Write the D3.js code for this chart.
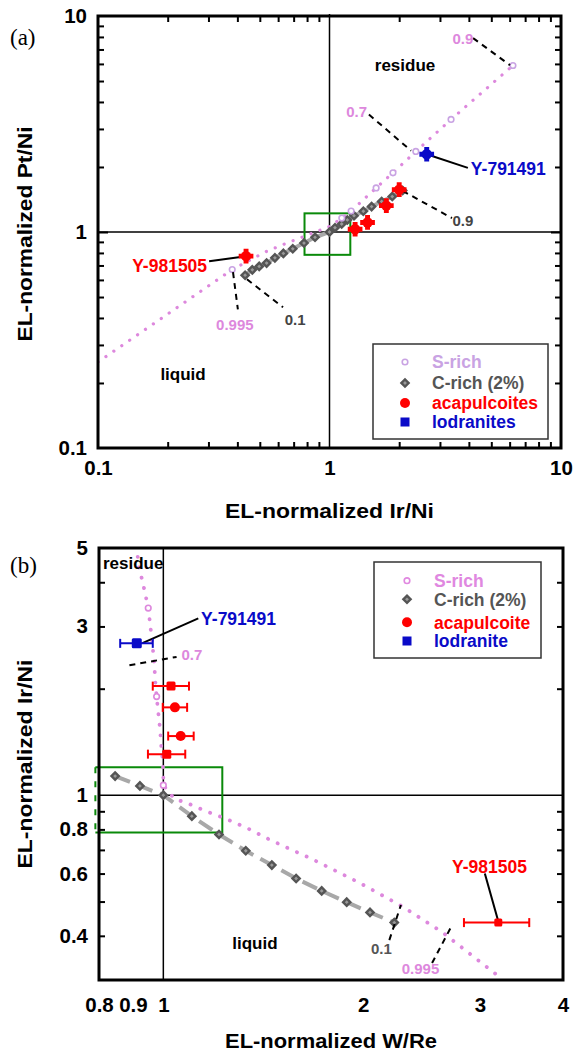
<!DOCTYPE html>
<html>
<head>
<meta charset="utf-8">
<script src="https://cdn.jsdelivr.net/npm/d3@7"></script>
<style>
  body { margin: 0; background: #fff; }
  text { font-family: "Liberation Sans", Arial, sans-serif; font-weight: bold; }
</style>
</head>
<body>
<div id="chart"></div>
<script>
// ---------------- panel (a) : Pt/Ni vs Ir/Ni ----------------
var aTickVals = [0.1, 1, 10];
var aTickLabels = ["0.1", "1", "10"];
var aMinor = [0.2, 0.3, 0.4, 0.5, 0.6, 0.7, 0.8, 0.9, 2, 3, 4, 5, 6, 7, 8, 9];

// S-rich melting curve (dotted) and its marked steps
var aSrichLine = [[0.1, 0.25], [0.38, 0.67], [0.53, 0.81], [0.64, 0.88], [1.0, 1.06], [1.13, 1.16],
  [1.24, 1.25], [1.59, 1.6], [1.88, 1.88], [2.36, 2.36], [3.35, 3.32], [6.2, 5.9]];
var aSrichOpen = [[0.38, 0.67], [1.13, 1.16], [1.24, 1.25], [1.59, 1.6], [1.88, 1.88],
  [2.36, 2.36], [3.35, 3.32], [6.2, 5.9]];
// C-rich (2%) curve
var aCrich = [[0.432, 0.631], [0.464, 0.668], [0.497, 0.693], [0.535, 0.718], [0.581, 0.759],
  [0.632, 0.796], [0.694, 0.836], [0.776, 0.889], [0.866, 0.945], [1, 1], [1.056, 1.047],
  [1.129, 1.089], [1.194, 1.137], [1.276, 1.19], [1.40, 1.248], [1.52, 1.311], [1.68, 1.384],
  [1.867, 1.459], [2.07, 1.556]];
var aAcapulcoites = [[1.29, 1.03], [1.46, 1.107], [1.76, 1.325], [2.0, 1.57]];
var aY981505 = [0.436, 0.773];
var aY791491 = [2.63, 2.29];
var aBox = [[0.78, 0.784], [1.23, 1.22]];
// dashed leaders: [from, to]
var aLeaders = [
  [[0.383, 0.652], [0.402, 0.438]],
  [[0.44, 0.604], [0.63, 0.448]],
  [[2.07, 1.55], [3.38, 1.16]],
  [[1.48, 3.5], [2.25, 2.38]],
  [[4.17, 7.9], [6.02, 5.92]]
];
var aNotes = [
  { t: "0.995", x: 0.39, y: 0.373, c: "#dd88dd", a: "middle", s: 15 },
  { t: "0.1", x: 0.71, y: 0.394, c: "#444", a: "middle", s: 15 },
  { t: "0.9", x: 3.77, y: 1.125, c: "#444", a: "middle", s: 15 },
  { t: "0.7", x: 1.31, y: 3.61, c: "#dd88dd", a: "middle", s: 15 },
  { t: "0.9", x: 3.77, y: 7.82, c: "#dd88dd", a: "middle", s: 15 },
  { t: "residue", x: 2.12, y: 5.92, c: "#000", a: "middle", s: 17 },
  { t: "liquid", x: 0.233, y: 0.221, c: "#000", a: "middle", s: 17 },
  { t: "Y-981505", x: 0.296, y: 0.697, c: "#ff0000", a: "end", s: 17.5 },
  { t: "Y-791491", x: 4.08, y: 1.96, c: "#0a0ac8", a: "start", s: 17.5 }
];
var aLabelLines = [
  [[0.302, 0.733], aY981505],
  [aY791491, [3.96, 1.98]]
];

// ---------------- panel (b) : Ir/Ni vs W/Re ----------------
var bXTickVals = [0.8, 0.9, 1, 2, 3, 4];
var bXTickLabels = ["0.8", "0.9", "1", "2", "3", "4"];
var bYTickVals = [0.4, 0.6, 0.8, 1, 3, 5];
var bYTickLabels = ["0.4", "0.6", "0.8", "1", "3", "5"];
var bYMinor = [0.4, 0.5, 0.6, 0.7, 0.8, 0.9, 2, 3, 4];

var bSrichLine = [[0.915, 4.72], [0.917, 4.48], [0.928, 4.10], [0.939, 3.72], [0.949, 3.38],
  [0.955, 3.06], [0.961, 2.75], [0.969, 2.38], [0.972, 2.12], [0.977, 1.90], [0.983, 1.70],
  [0.989, 1.53], [0.992, 1.40], [0.997, 1.27], [1.0, 1.15], [1.0, 1.067], [1.04, 0.974],
  [1.078, 0.955], [1.156, 0.903], [1.247, 0.855], [1.337, 0.807], [1.432, 0.755], [1.541, 0.708],
  [1.652, 0.668], [1.978, 0.564], [2.288, 0.485], [2.63, 0.41], [3.14, 0.316], [3.25, 0.30]];
var bSrichOpen = [[0.949, 3.38], [0.977, 1.90], [1.0, 1.067]];
var bCrich = [[0.846, 1.132], [0.922, 1.062], [1, 1], [1.104, 0.872], [1.213, 0.774],
  [1.331, 0.696], [1.457, 0.634], [1.585, 0.581], [1.732, 0.536], [1.889, 0.498],
  [2.048, 0.466], [2.228, 0.436]];
var bAcapX = [1.027, 1.041, 1.062, 1.012];
var bAcapXlo = [0.964, 0.998, 1.017, 0.948];
var bAcapXhi = [1.093, 1.086, 1.111, 1.079];
var bAcapY = [2.034, 1.771, 1.469, 1.306];
var bAcapShape = ["square", "circle", "circle", "square"];
var bY791491 = { x: 0.912, lo: 0.861, hi: 0.964, y: 2.687 };
var bY981505 = { x: 3.196, lo: 2.837, hi: 3.558, y: 0.436 };
var bBox = [[0.79, 0.784], [1.227, 1.2]];
var bLeaders = [
  [[0.889, 2.33], [1.047, 2.46]],
  [[2.19, 0.389], [2.28, 0.489]],
  [[2.54, 0.335], [2.71, 0.422]]
];
var bNotes = [
  { t: "0.7", x: 1.104, y: 2.50, c: "#dd88dd", a: "middle", s: 15 },
  { t: "0.1", x: 2.13, y: 0.367, c: "#555", a: "middle", s: 15 },
  { t: "0.995", x: 2.44, y: 0.324, c: "#dd88dd", a: "middle", s: 15 },
  { t: "residue", x: 0.811, y: 4.53, c: "#000", a: "start", s: 17 },
  { t: "liquid", x: 1.374, y: 0.381, c: "#000", a: "middle", s: 17 },
  { t: "Y-791491", x: 1.14, y: 3.15, c: "#0a0ac8", a: "start", s: 17.5 },
  { t: "Y-981505", x: 3.10, y: 0.627, c: "#ff0000", a: "middle", s: 17.5 }
];
var bLabelLines = [
  [[0.93, 2.69], [1.129, 3.16]],
  [[3.05, 0.60], [3.19, 0.445]]
];

var legendA = [
  { t: "S-rich", c: "#c9a3e3", m: "open" },
  { t: "C-rich (2%)", c: "#555", m: "diamond" },
  { t: "acapulcoites", c: "#ff0000", m: "dot" },
  { t: "lodranites", c: "#0a0ac8", m: "square" }
];
var legendB = [
  { t: "S-rich", c: "#e088e0", m: "open" },
  { t: "C-rich (2%)", c: "#555", m: "diamond" },
  { t: "acapulcoite", c: "#ff0000", m: "dot" },
  { t: "lodranite", c: "#0a0ac8", m: "square" }
];

var svg = d3.select("#chart").append("svg")
  .attr("width", 580).attr("height", 1057)
  .style("background", "#fff");

function clean(sel) {
  sel.select(".domain").remove();
  sel.selectAll(".tick line").attr("stroke", "#000").attr("stroke-width", 2);
}

// inward ticks on all four sides (x ticks optional)
function frameTicks(g, x, y, xMinor, yMinor, yMajor) {
  var x0 = x.range()[0], x1 = x.range()[1], y0 = y.range()[0], y1 = y.range()[1];
  if (xMinor.length) {
    g.append("g").attr("transform", "translate(0," + y0 + ")")
      .call(d3.axisBottom(x).tickValues(xMinor).tickSize(-6).tickFormat("")).call(clean);
    g.append("g").attr("transform", "translate(0," + y1 + ")")
      .call(d3.axisTop(x).tickValues(xMinor).tickSize(-6).tickFormat("")).call(clean);
  }
  g.append("g").attr("transform", "translate(" + x0 + ",0)")
    .call(d3.axisLeft(y).tickValues(yMinor).tickSize(-6).tickFormat("")).call(clean);
  g.append("g").attr("transform", "translate(" + x1 + ",0)")
    .call(d3.axisRight(y).tickValues(yMinor).tickSize(-6).tickFormat("")).call(clean);
  if (yMajor.length) {
    g.append("g").attr("transform", "translate(" + x0 + ",0)")
      .call(d3.axisLeft(y).tickValues(yMajor).tickSize(-10).tickFormat("")).call(clean);
    g.append("g").attr("transform", "translate(" + x1 + ",0)")
      .call(d3.axisRight(y).tickValues(yMajor).tickSize(-10).tickFormat("")).call(clean);
  }
}

function tickLabels(g, x, y, xv, xl, yv, yl, xPad) {
  var x0 = x.range()[0], y0 = y.range()[0];
  var gx = g.append("g").attr("transform", "translate(0," + y0 + ")")
    .call(d3.axisBottom(x).tickValues(xv).tickSize(0).tickPadding(xPad)
      .tickFormat(function(d, i) { return xl[i]; }));
  var gy = g.append("g").attr("transform", "translate(" + x0 + ",0)")
    .call(d3.axisLeft(y).tickValues(yv).tickSize(0).tickPadding(11)
      .tickFormat(function(d, i) { return yl[i]; }));
  [gx, gy].forEach(function(s) {
    s.select(".domain").remove();
    s.attr("font-family", null).attr("font-size", null);
    s.selectAll("text").attr("font-size", 20.5).attr("fill", "#000");
  });
}

function notes(g, x, y, list) {
  g.selectAll(null).data(list).enter().append("text")
    .attr("x", function(d) { return x(d.x); })
    .attr("y", function(d) { return y(d.y); })
    .attr("dy", "0.36em")
    .attr("text-anchor", function(d) { return d.a; })
    .attr("font-size", function(d) { return d.s; })
    .attr("fill", function(d) { return d.c; })
    .text(function(d) { return d.t; });
}

function segs(g, x, y, list, dash, width) {
  g.selectAll(null).data(list).enter().append("line")
    .attr("x1", function(d) { return x(d[0][0]); })
    .attr("y1", function(d) { return y(d[0][1]); })
    .attr("x2", function(d) { return x(d[1][0]); })
    .attr("y2", function(d) { return y(d[1][1]); })
    .attr("stroke", "#000").attr("stroke-width", width)
    .attr("stroke-dasharray", dash);
}

var diamond = d3.symbol().type(d3.symbolSquare).size(26);
var cross = d3.symbol().type(d3.symbolCross).size(120);

function legend(g, list, bx, by, bw, bh, mx, tx, rows) {
  g.append("rect").attr("x", bx).attr("y", by).attr("width", bw).attr("height", bh)
    .attr("fill", "#fff").attr("stroke", "#333").attr("stroke-width", 1.5);
  list.forEach(function(d, i) {
    var cy = rows[i];
    if (d.m === "open") {
      g.append("circle").attr("cx", mx).attr("cy", cy).attr("r", 2.8)
        .attr("fill", "#fff").attr("stroke", d.c).attr("stroke-width", 1.6);
    } else if (d.m === "diamond") {
      g.append("path").attr("d", diamond)
        .attr("transform", "translate(" + mx + "," + cy + ") rotate(45)")
        .attr("fill", "#999").attr("stroke", "#555").attr("stroke-width", 2.4);
    } else if (d.m === "dot") {
      g.append("circle").attr("cx", mx).attr("cy", cy).attr("r", 5).attr("fill", d.c);
    } else {
      g.append("rect").attr("x", mx - 4.5).attr("y", cy - 4.5).attr("width", 9).attr("height", 9)
        .attr("fill", d.c);
    }
    g.append("text").attr("x", tx).attr("y", cy).attr("dy", "0.36em")
      .attr("font-size", 17.5).attr("fill", d.c).text(d.t);
  });
}

// ================= panel (a) =================
var xa = d3.scaleLog().domain([0.1, 10]).range([98, 561]);
var ya = d3.scaleLog().domain([0.1, 10]).range([448, 16]);
var ga = svg.append("g");

ga.append("clipPath").attr("id", "clipA").append("rect")
  .attr("x", 98).attr("y", 16).attr("width", 463).attr("height", 432);

// reference lines at 1
ga.append("line").attr("x1", xa(1)).attr("x2", xa(1)).attr("y1", 14).attr("y2", ya(0.1))
  .attr("stroke", "#000").attr("stroke-width", 1.5);
ga.append("line").attr("x1", xa(0.1)).attr("x2", xa(10)).attr("y1", ya(1)).attr("y2", ya(1))
  .attr("stroke", "#000").attr("stroke-width", 1.5);

ga.append("rect")
  .attr("x", xa(aBox[0][0])).attr("y", ya(aBox[1][1]))
  .attr("width", xa(aBox[1][0]) - xa(aBox[0][0]))
  .attr("height", ya(aBox[0][1]) - ya(aBox[1][1]))
  .attr("fill", "none").attr("stroke", "#0a8a0a").attr("stroke-width", 2);

var lineA = d3.line().x(function(d) { return xa(d[0]); }).y(function(d) { return ya(d[1]); });
var plotA = ga.append("g").attr("clip-path", "url(#clipA)");

plotA.append("path").datum(aSrichLine).attr("d", lineA)
  .attr("fill", "none").attr("stroke", "#dd88dd").attr("stroke-width", 3.2)
  .attr("stroke-linecap", "round").attr("stroke-dasharray", "0.1,9.5");
plotA.append("path").datum(aCrich).attr("d", lineA)
  .attr("fill", "none").attr("stroke", "#a8a8a8").attr("stroke-width", 4);

segs(ga, xa, ya, aLeaders, "6,5", 2);
segs(ga, xa, ya, aLabelLines, null, 2);

plotA.selectAll(null).data(aCrich).enter().append("path").attr("d", diamond)
  .attr("transform", function(d) { return "translate(" + xa(d[0]) + "," + ya(d[1]) + ") rotate(45)"; })
  .attr("fill", "#999").attr("stroke", "#555").attr("stroke-width", 2.4);
plotA.selectAll(null).data(aSrichOpen).enter().append("circle")
  .attr("cx", function(d) { return xa(d[0]); }).attr("cy", function(d) { return ya(d[1]); })
  .attr("r", 2.8).attr("fill", "#fff").attr("stroke", "#c9a3e3").attr("stroke-width", 1.6);

function crossMark(g, x, y, p, c) {
  g.append("path").attr("d", cross)
    .attr("transform", "translate(" + x(p[0]) + "," + y(p[1]) + ")").attr("fill", c);
  g.append("circle").attr("cx", x(p[0])).attr("cy", y(p[1])).attr("r", 5.2).attr("fill", c);
}
aAcapulcoites.forEach(function(p) { crossMark(ga, xa, ya, p, "#ff0000"); });
crossMark(ga, xa, ya, aY981505, "#ff0000");
crossMark(ga, xa, ya, aY791491, "#0a0ac8");

notes(ga, xa, ya, aNotes);

ga.append("rect").attr("x", 98).attr("y", 16).attr("width", 463).attr("height", 432)
  .attr("fill", "none").attr("stroke", "#000").attr("stroke-width", 3);
frameTicks(ga, xa, ya, aMinor, aMinor, [1]);
tickLabels(ga, xa, ya, aTickVals, aTickLabels, aTickVals, aTickLabels, 12);

legend(ga, legendA, 373, 344, 175, 95, 405, 432, [362, 383, 403, 422]);

ga.append("text").attr("x", 329.5).attr("y", 511).attr("dy", "0.36em")
  .attr("text-anchor", "middle").attr("font-size", 20)
  .attr("textLength", 209).attr("lengthAdjust", "spacingAndGlyphs")
  .text("EL-normalized Ir/Ni");
ga.append("text").attr("transform", "translate(25,234) rotate(-90)").attr("dy", "0.36em")
  .attr("text-anchor", "middle").attr("font-size", 20)
  .attr("textLength", 215).attr("lengthAdjust", "spacingAndGlyphs")
  .text("EL-normalized Pt/Ni");
ga.append("text").attr("x", 10).attr("y", 45)
  .style("font-family", "'Liberation Serif', 'Times New Roman', serif").style("font-weight", "normal")
  .attr("font-size", 23).text("(a)");

// ================= panel (b) =================
var xb = d3.scaleLog().domain([0.8, 4]).range([99, 563]);
var yb = d3.scaleLog().domain([0.3, 5]).range([980, 548]);
var gb = svg.append("g");

gb.append("clipPath").attr("id", "clipB").append("rect")
  .attr("x", 99).attr("y", 548).attr("width", 464).attr("height", 432);

gb.append("line").attr("x1", xb(1)).attr("x2", xb(1)).attr("y1", yb(5)).attr("y2", yb(0.3))
  .attr("stroke", "#000").attr("stroke-width", 1.5);
gb.append("line").attr("x1", xb(0.8)).attr("x2", xb(4)).attr("y1", yb(1)).attr("y2", yb(1))
  .attr("stroke", "#000").attr("stroke-width", 1.5);

// green box; its left side sits just outside the axis and is dashed
var bx0 = xb(bBox[0][0]), bx1 = xb(bBox[1][0]), by0 = yb(bBox[1][1]), by1 = yb(bBox[0][1]);
gb.append("path").attr("d", "M" + bx0 + "," + by0 + "H" + bx1 + "V" + by1 + "H" + bx0)
  .attr("fill", "none").attr("stroke", "#0a8a0a").attr("stroke-width", 2);
gb.append("line").attr("x1", bx0).attr("x2", bx0).attr("y1", by0).attr("y2", by1)
  .attr("stroke", "#0a8a0a").attr("stroke-width", 2).attr("stroke-dasharray", "6,8");

var lineB = d3.line().x(function(d) { return xb(d[0]); }).y(function(d) { return yb(d[1]); });
var plotB = gb.append("g").attr("clip-path", "url(#clipB)");

plotB.append("path").datum(bSrichLine).attr("d", lineB)
  .attr("fill", "none").attr("stroke", "#dd88dd").attr("stroke-width", 3.8)
  .attr("stroke-linecap", "round").attr("stroke-dasharray", "0.1,10.5");
plotB.append("path").datum(bCrich).attr("d", lineB)
  .attr("fill", "none").attr("stroke", "#a8a8a8").attr("stroke-width", 4)
  .attr("stroke-dasharray", "16,8");
plotB.selectAll(null).data(bCrich).enter().append("path").attr("d", diamond)
  .attr("transform", function(d) { return "translate(" + xb(d[0]) + "," + yb(d[1]) + ") rotate(45)"; })
  .attr("fill", "#999").attr("stroke", "#555").attr("stroke-width", 2.4);
plotB.selectAll(null).data(bSrichOpen).enter().append("circle")
  .attr("cx", function(d) { return xb(d[0]); }).attr("cy", function(d) { return yb(d[1]); })
  .attr("r", 2.8).attr("fill", "#fff").attr("stroke", "#dd88dd").attr("stroke-width", 1.6);

segs(gb, xb, yb, bLeaders, "6,5", 2);
segs(gb, xb, yb, bLabelLines, null, 2);

function errBar(g, xv, lo, hi, yv, c, shape, size) {
  var cy = yb(yv);
  g.append("line").attr("x1", xb(lo)).attr("x2", xb(hi)).attr("y1", cy).attr("y2", cy)
    .attr("stroke", c).attr("stroke-width", 2);
  [lo, hi].forEach(function(v) {
    g.append("line").attr("x1", xb(v)).attr("x2", xb(v)).attr("y1", cy - 4.5).attr("y2", cy + 4.5)
      .attr("stroke", c).attr("stroke-width", 2);
  });
  if (shape === "circle") {
    g.append("circle").attr("cx", xb(xv)).attr("cy", cy).attr("r", size / 2 + 0.5).attr("fill", c);
  } else {
    g.append("rect").attr("x", xb(xv) - size / 2).attr("y", cy - size / 2)
      .attr("width", size).attr("height", size).attr("rx", 1.5).attr("fill", c);
  }
}
bAcapX.forEach(function(v, i) {
  errBar(gb, v, bAcapXlo[i], bAcapXhi[i], bAcapY[i], "#ff0000", bAcapShape[i], 9);
});
errBar(gb, bY791491.x, bY791491.lo, bY791491.hi, bY791491.y, "#0a0ac8", "square", 10);
errBar(gb, bY981505.x, bY981505.lo, bY981505.hi, bY981505.y, "#ff0000", "square", 8);

notes(gb, xb, yb, bNotes);

gb.append("rect").attr("x", 99).attr("y", 548).attr("width", 464).attr("height", 432)
  .attr("fill", "none").attr("stroke", "#000").attr("stroke-width", 3);
frameTicks(gb, xb, yb, [], bYMinor, []);
tickLabels(gb, xb, yb, bXTickVals, bXTickLabels, bYTickVals, bYTickLabels, 17);

legend(gb, legendB, 374, 562, 167, 96, 407, 434, [580.7, 599.3, 622.3, 641]);

gb.append("text").attr("x", 331).attr("y", 1041).attr("dy", "0.36em")
  .attr("text-anchor", "middle").attr("font-size", 20)
  .attr("textLength", 212).attr("lengthAdjust", "spacingAndGlyphs")
  .text("EL-normalized W/Re");
gb.append("text").attr("transform", "translate(25,764) rotate(-90)").attr("dy", "0.36em")
  .attr("text-anchor", "middle").attr("font-size", 20)
  .attr("textLength", 209).attr("lengthAdjust", "spacingAndGlyphs")
  .text("EL-normalized Ir/Ni");
gb.append("text").attr("x", 10).attr("y", 573)
  .style("font-family", "'Liberation Serif', 'Times New Roman', serif").style("font-weight", "normal")
  .attr("font-size", 23).text("(b)");
</script>
</body>
</html>
